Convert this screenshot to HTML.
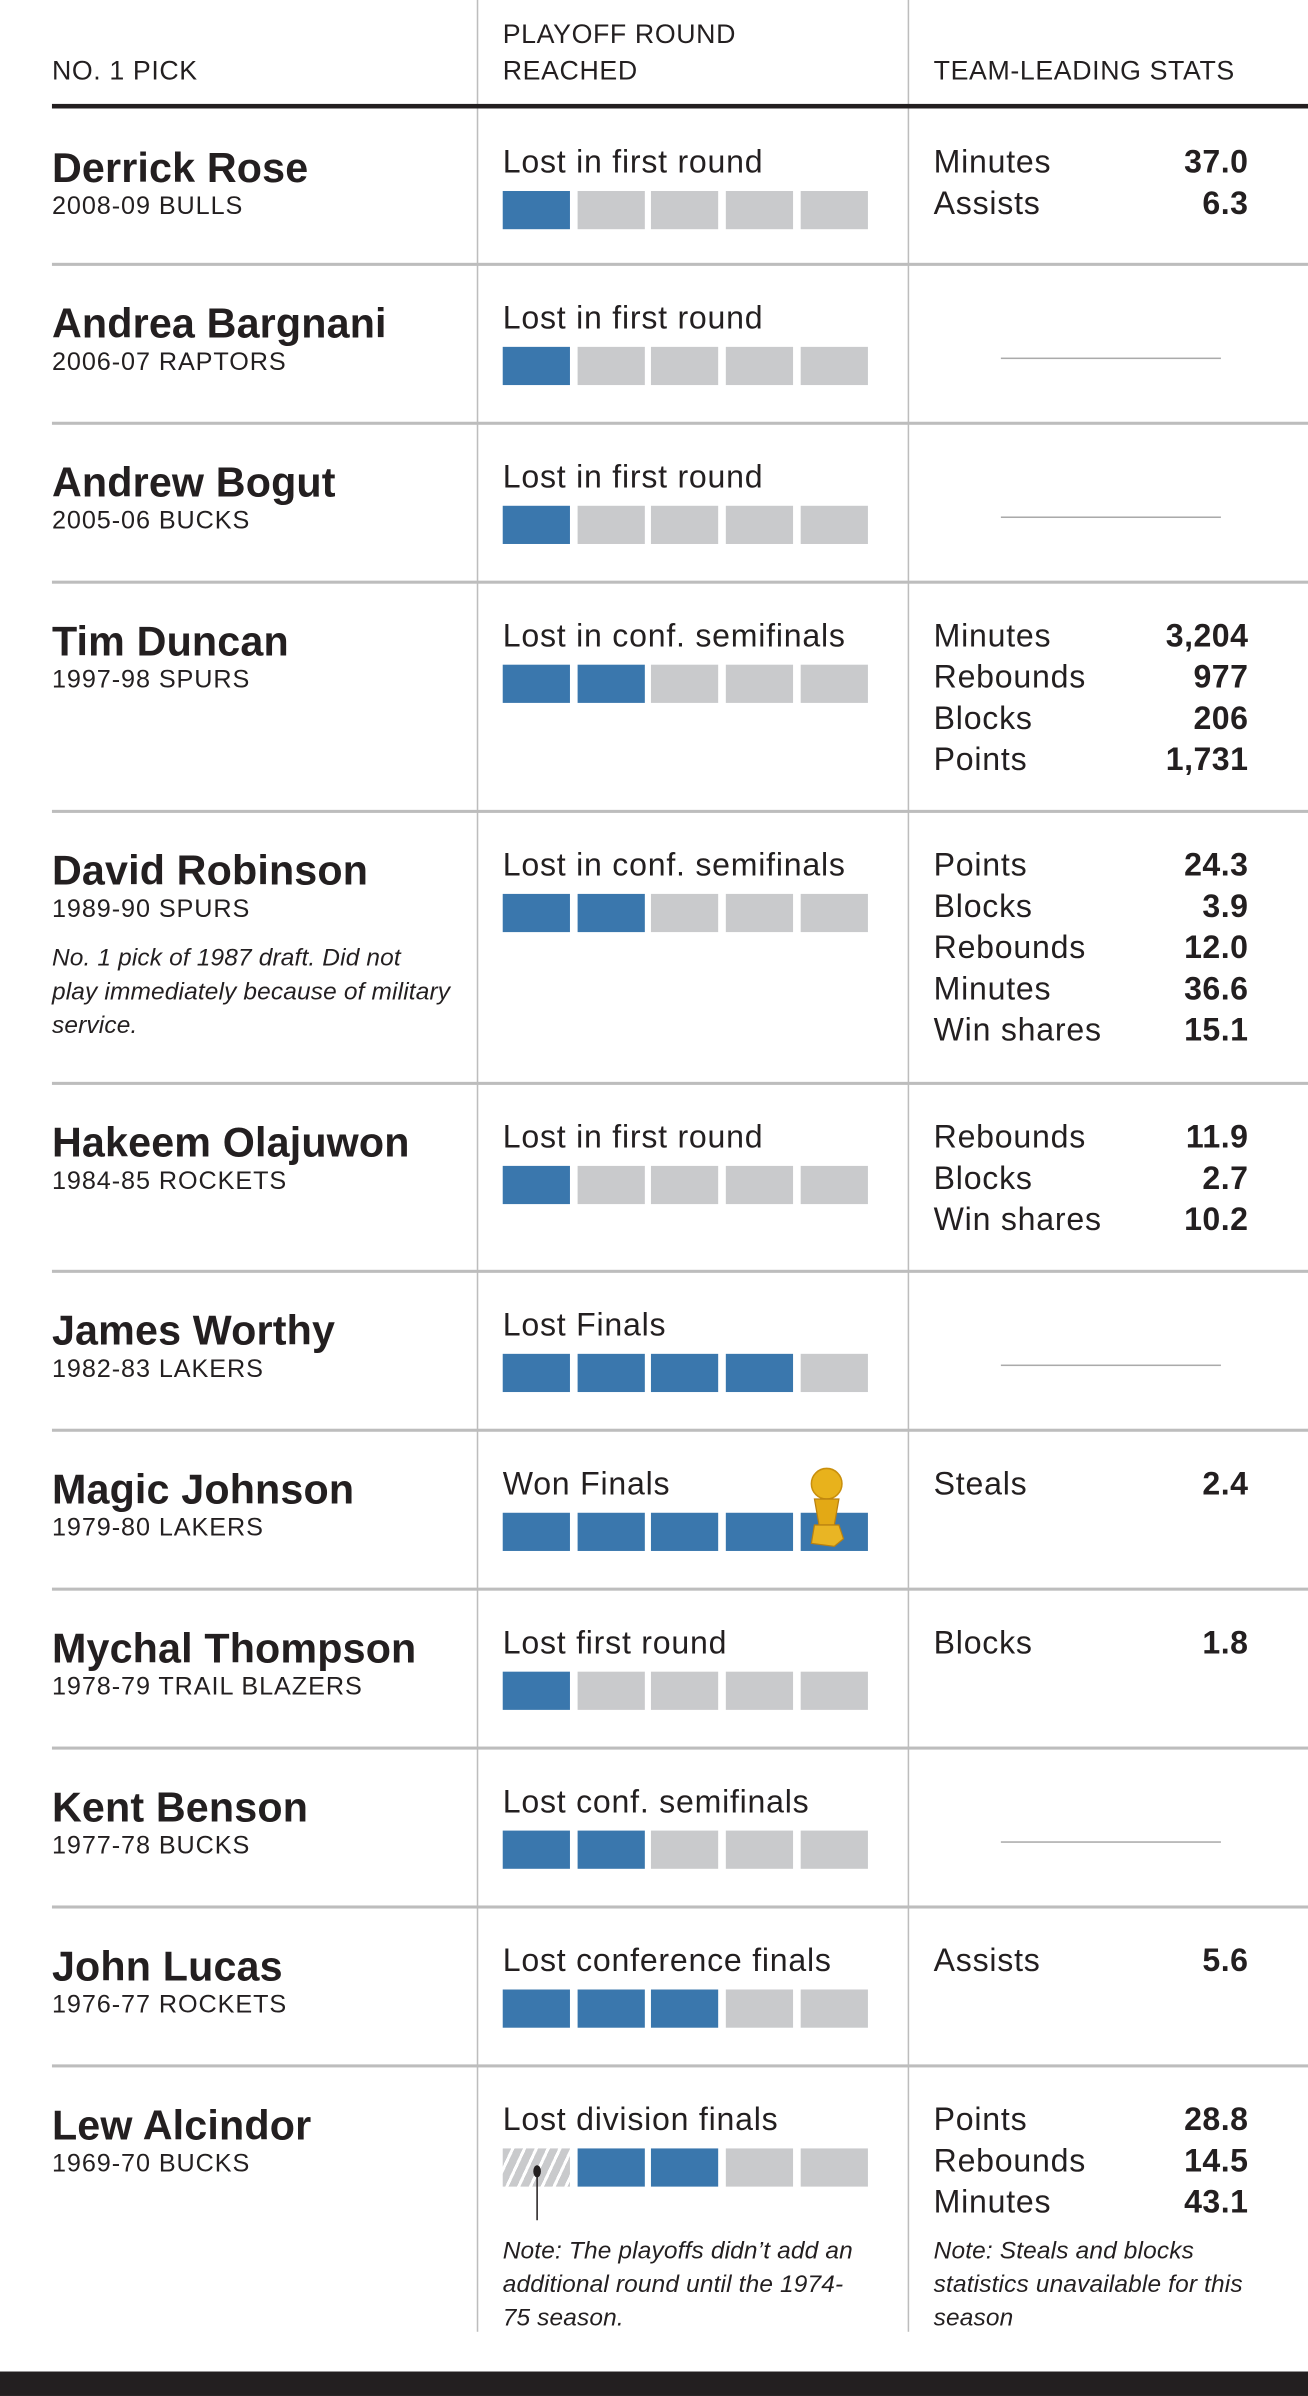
<!DOCTYPE html>
<html><head><meta charset="utf-8">
<style>
html,body{margin:0;padding:0;background:#fff;}
body{width:1308px;height:2395px;overflow:hidden;position:relative;}
#wrap{position:absolute;left:0;top:0;width:856px;height:1568px;transform:scale(1.52804);transform-origin:0 0;font-family:"Liberation Sans",sans-serif;color:#231f20;}
.t{position:absolute;white-space:nowrap;line-height:1;}
.hd{font-size:17.5px;letter-spacing:0.4px;}
.name{font-size:27px;font-weight:bold;letter-spacing:0.1px;}
.team{font-size:16.5px;letter-spacing:0.6px;}
.lab{font-size:21px;letter-spacing:0.5px;}
.note{font-size:16px;font-style:italic;letter-spacing:0.1px;line-height:22px;white-space:normal;}
.sl{font-size:21px;letter-spacing:0.5px;}
.sv{font-size:21px;font-weight:bold;text-align:right;width:120px;letter-spacing:0.3px;}
.box{position:absolute;width:44px;height:25px;}
.rule{position:absolute;background:#bdbdbd;}
</style></head>
<body>
<div id="wrap">
  <div class="t hd" style="left:34px;top:38px">NO. 1 PICK</div>
  <div class="t hd" style="left:329px;top:14px">PLAYOFF ROUND</div>
  <div class="t hd" style="left:329px;top:38px">REACHED</div>
  <div class="t hd" style="left:611px;top:38px">TEAM-LEADING STATS</div>
  <div class="rule" style="left:312px;top:0;width:1px;height:1526px"></div>
  <div class="rule" style="left:594px;top:0;width:1px;height:1526px"></div>
  <div style="position:absolute;left:34px;top:68px;width:822px;height:3px;background:#231f20"></div>
  <div style="position:absolute;left:0;top:1552px;width:856px;height:16px;background:#231f20"></div>
</div>
<script>
const names=["Derrick Rose","Andrea Bargnani","Andrew Bogut","Tim Duncan","David Robinson","Hakeem Olajuwon","James Worthy","Magic Johnson","Mychal Thompson","Kent Benson","John Lucas","Lew Alcindor"];
const teams=["2008-09 BULLS","2006-07 RAPTORS","2005-06 BUCKS","1997-98 SPURS","1989-90 SPURS","1984-85 ROCKETS","1982-83 LAKERS","1979-80 LAKERS","1978-79 TRAIL BLAZERS","1977-78 BUCKS","1976-77 ROCKETS","1969-70 BUCKS"];
const roundLabels=["Lost in first round","Lost in first round","Lost in first round","Lost in conf. semifinals","Lost in conf. semifinals","Lost in first round","Lost Finals","Won Finals","Lost first round","Lost conf. semifinals","Lost conference finals","Lost division finals"];
const roundsReached=[1,1,1,2,2,1,4,5,1,2,3,3];
const statLabels=[["Minutes","Assists"],[],[],["Minutes","Rebounds","Blocks","Points"],["Points","Blocks","Rebounds","Minutes","Win shares"],["Rebounds","Blocks","Win shares"],[],["Steals"],["Blocks"],[],["Assists"],["Points","Rebounds","Minutes"]];
const statValues=[["37.0","6.3"],[],[],["3,204","977","206","1,731"],["24.3","3.9","12.0","36.6","15.1"],["11.9","2.7","10.2"],[],["2.4"],["1.8"],[],["5.6"],["28.8","14.5","43.1"]];
const rowTops=[71,173,277,381,531,709,832,936,1040,1144,1248,1352];

const W=document.getElementById('wrap');
function mk(cls,txt,l,t){const d=document.createElement('div');d.className='t '+cls;if(txt!=null)d.textContent=txt;d.style.left=l+'px';d.style.top=t+'px';W.appendChild(d);return d;}
const boxX=[329,378,426,475,524];
names.forEach((n,i)=>{
  const top=rowTops[i];
  let e=mk('name',n,34,top+26);
  
  
  e=mk('team',teams[i],34,top+56);
  
  
  e=mk('lab',roundLabels[i],329,top+25);
  
  
  const startBlue = (i===names.length-1)?1:0;
  boxX.forEach((x,k)=>{
    const b=document.createElement('div');b.className='box';
    b.style.left=x+'px';b.style.top=(top+54)+'px';
    const filled = k>=startBlue && k<roundsReached[i];
    b.style.background = filled?'#3a77ad':'#c9cacc';
    if(startBlue===1 && k===0){b.style.background='repeating-linear-gradient(115deg,#c9cacc 0 5px,#fff 5px 7px)';}
    
    
    W.appendChild(b);
  });
  if(i>0){
    const r=document.createElement('div');r.className='rule';
    r.style.left='34px';r.style.top=(top-1)+'px';r.style.width='822px';r.style.height='2px';
    
    
    W.appendChild(r);
  }
  const sl=statLabels[i];
  if(sl.length===0){
    const d=document.createElement('div');d.className='rule';
    d.style.left='655px';d.style.top=(top+61)+'px';d.style.width='144px';d.style.height='1px';d.style.background='#aaa';
    
    
    W.appendChild(d);
  }
  sl.forEach((s,k)=>{
    let a=mk('sl',s,611,top+25+k*27);
    
    
    let v=mk('sv',statValues[i][k],697,top+25+k*27);
    
    
  });
});
let n1=mk('note','No. 1 pick of 1987 draft. Did not play immediately because of military service.',34,617);
n1.style.width='262px';


let n2=mk('note','Note: The playoffs didn\u2019t add an additional round until the 1974-75 season.',329,1463);
n2.style.width='240px';


let n3=mk('note','Note: Steals and blocks statistics unavailable for this season',611,1463);
n3.style.width='210px';


const pin=document.createElementNS('http://www.w3.org/2000/svg','svg');
pin.setAttribute('width','856');pin.setAttribute('height','1568');
pin.style.position='absolute';pin.style.left='0';pin.style.top='0';


pin.innerHTML='<line x1="351.5" y1="1420" x2="351.5" y2="1453" stroke="#231f20" stroke-width="1"/><ellipse cx="351.5" cy="1421" rx="2.5" ry="4" fill="#231f20"/>'+
'<g><circle cx="541" cy="971" r="10" fill="#e8b21c" stroke="#c98f0c"/><path d="M533 981 L549 981 L546 998 L536 998 Z" fill="#e3a915" stroke="#b98010" stroke-width="0.8"/><path d="M533 998 L549 998 L552 1007 L546 1012 L531 1010 Z" fill="#e9b524" stroke="#b98010" stroke-width="0.8"/></g>';
W.appendChild(pin);
</script>
</body></html>
